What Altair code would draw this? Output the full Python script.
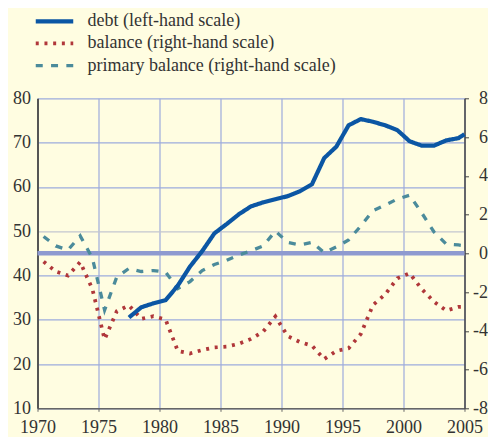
import altair as alt
import pandas as pd

# ---- data ----
years = list(range(1970, 2005))            # annual observations, plotted mid-year
debt_years = list(range(1977, 2005))
end_x = 2005.0                              # last visible point at the right edge

debt = [30.5, 32.8, 33.7, 34.4, 37.7, 42.0, 45.5, 49.5, 51.6, 53.8, 55.6, 56.5, 57.2, 57.9,
        59.0, 60.6, 66.5, 69.1, 73.9, 75.3, 74.7, 73.9, 72.8, 70.3, 69.3, 69.3, 70.5, 71.0]
debt_end = 71.9

balance = [-0.43, -0.94, -1.15, -0.45, -1.85, -4.44, -2.99, -2.69, -3.38, -3.25,
           -3.42, -5.04, -5.17, -4.99, -4.86, -4.82, -4.67, -4.42, -4.04, -3.26,
           -4.27, -4.58, -4.77, -5.46, -5.04, -4.90, -4.17, -2.67, -2.12, -1.29,
           -1.03, -1.85, -2.50, -2.96, -2.77]
balance_end = -2.76

primary = [0.87, 0.38, 0.17, 0.90, -0.25, -2.93, -1.22, -0.78, -0.94, -0.89,
           -0.97, -1.82, -1.46, -0.89, -0.58, -0.36, -0.09, 0.13, 0.38, 1.15,
           0.56, 0.43, 0.57, 0.03, 0.33, 0.69, 1.41, 2.20, 2.49, 2.80,
           3.00, 2.08, 1.10, 0.48, 0.43]
primary_end = 0.39

names = ["debt (left-hand scale)", "balance (right-hand scale)", "primary balance (right-hand scale)"]
colors = ["#0b56a4", "#b0373a", "#4b8b9b"]

x_ticks = [1970, 1975, 1980, 1985, 1990, 1995, 2000, 2005]
left_ticks = [10, 20, 30, 40, 50, 60, 70, 80]
right_ticks = [-8, -6, -4, -2, 0, 2, 4, 6, 8]

# ---- tables ----
left_rows = [{"x": y + 0.5, "series": names[0], "v": v} for y, v in zip(debt_years, debt)]
left_rows.append({"x": end_x, "series": names[0], "v": debt_end})
df_left = pd.DataFrame(left_rows)

right_rows = []
for y, v in zip(years, balance):
    right_rows.append({"x": y + 0.5, "series": names[1], "v": v})
right_rows.append({"x": end_x, "series": names[1], "v": balance_end})
for y, v in zip(years, primary):
    right_rows.append({"x": y + 0.5, "series": names[2], "v": v})
right_rows.append({"x": end_x, "series": names[2], "v": primary_end})
df_right = pd.DataFrame(right_rows)

df_zero = pd.DataFrame({"v": [0]})

FONT = "Liberation Serif, Times New Roman, DejaVu Serif, serif"
TXT = "#333333"
GRID = "#9dabdc"

legend = alt.Legend(
    title=None, orient="none", legendX=-4, legendY=-85.5, padding=0,
    symbolType="stroke", symbolSize=1406, clipHeight=17, rowPadding=3.2,
    labelFont=FONT, labelFontSize=18, labelColor=TXT, labelOffset=12, labelLimit=400,
)
color_enc = alt.Color("series:N", scale=alt.Scale(domain=names, range=colors), legend=legend)
dash_enc = alt.StrokeDash("series:N", scale=alt.Scale(domain=names, range=[[1, 0], [3, 5.7], [7, 8.3]]), legend=legend)
width_enc = alt.StrokeWidth("series:N", scale=alt.Scale(domain=names, range=[4.2, 3.3, 4.2]), legend=legend)

x_enc = alt.X(
    "x:Q",
    scale=alt.Scale(domain=[1970, 2005], nice=False, zero=False),
    axis=alt.Axis(values=x_ticks, format="d", title=None, grid=True, gridColor=GRID, gridWidth=1.2,
                  domainColor="#666666", domainWidth=1.5, tickColor="#666666", tickSize=3,
                  labelFont=FONT, labelFontSize=18, labelColor=TXT, labelPadding=7,
                  labelFlush=False, labelOverlap=False),
)

left_axis = alt.Axis(
    orient="left", values=left_ticks, title=None, grid=True,
    gridColor={"condition": {"test": "datum.value === 50", "value": "#c3c6cf"}, "value": GRID},
    gridWidth=1.3, domainColor="#555555", domainWidth=2, ticks=False,
    labelFont=FONT, labelFontSize=18, labelColor=TXT, labelPadding=7,
)
right_axis = alt.Axis(
    orient="right", values=right_ticks, title=None, grid=False,
    domainColor="#444444", domainWidth=1.5, tickColor="#444444", tickSize=4,
    labelFont=FONT, labelFontSize=18, labelColor=TXT, labelAlign="right", labelPadding=19,
    labelExpr="datum.value < 0 ? '-' + abs(datum.value) : '' + datum.value",
)
right_scale = alt.Scale(domain=[-8, 8], nice=False, zero=False)

zero_rule = alt.Chart(df_zero).mark_rule(color="#8e9ad0", strokeWidth=4.5).encode(
    y=alt.Y("v:Q", scale=right_scale, axis=right_axis)
)
right_lines = alt.Chart(df_right).mark_line(strokeCap="butt").encode(
    x=x_enc,
    y=alt.Y("v:Q", scale=right_scale, axis=right_axis),
    color=color_enc, strokeDash=dash_enc, strokeWidth=width_enc,
    detail="series:N",
)
left_line = alt.Chart(df_left).mark_line(strokeCap="butt").encode(
    x=x_enc,
    y=alt.Y("v:Q", scale=alt.Scale(domain=[10, 80], nice=False, zero=False), axis=left_axis),
    color=color_enc, strokeDash=dash_enc, strokeWidth=width_enc,
)

chart = alt.layer(alt.layer(zero_rule, right_lines), left_line).resolve_scale(y="independent").properties(
    width=427, height=310,
    autosize=alt.AutoSizeParams(type="none"),
    padding={"left": 29.5, "top": 90.3, "right": 23.5, "bottom": 34},
).configure(background="#fffde1").configure_view(strokeWidth=0, fill="#fffde1")

chart.save("out.html", embed_options={"renderer": "svg", "actions": False})
